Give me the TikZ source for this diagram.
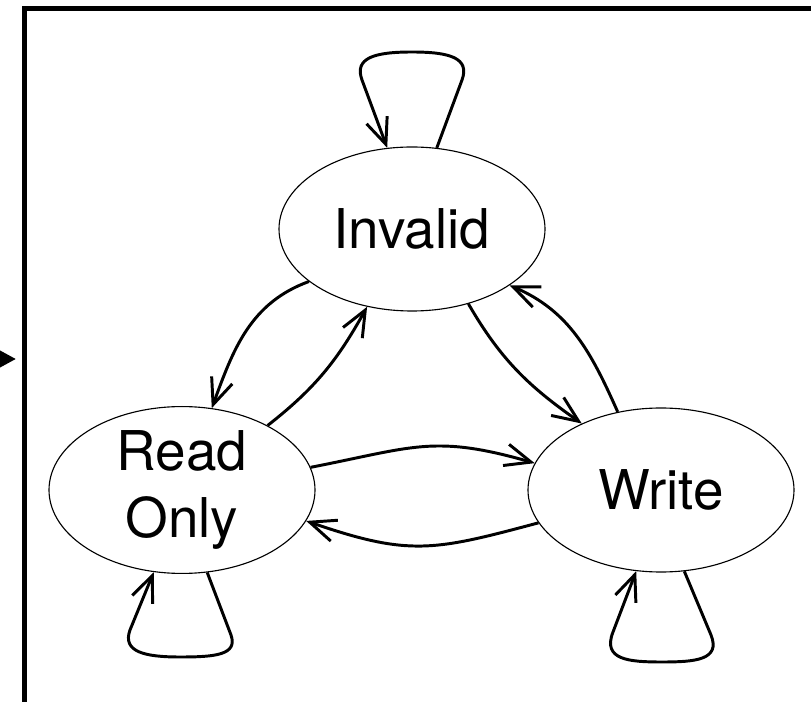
\documentclass[tikz,border=0pt]{standalone}
\usepackage{fontspec}
\setmainfont{TeX Gyre Heros}
\usetikzlibrary{arrows.meta,shapes.geometric}

\begin{document}
\begin{tikzpicture}[
	state/.style={ellipse, draw, line width=0.8pt, minimum width=6.65cm, minimum height=4.1cm, inner sep=0pt, align=center, font=\fontsize{39}{47}\selectfont},
	trans/.style={line width=2.1pt, -{Straight Barb[length=0.65cm, width=0.55cm]}},
]
	\clip (0, 0) rectangle (20.275, 17.525);

	\draw[line width=3.5pt] (0.6125, -1) |- (21, 17.3125);
	\coordinate (entry) at (-1, 8.55);
	\coordinate (port) at (0.4, 8.55);
	\draw[line width=3pt, -{Triangle[length=0.45cm, width=0.45cm]}] (entry) -- (port);

	\node[state] (inv) at (10.3, 11.8) {Invalid};
	\node[state] (ro) at (4.55, 5.275) {Read\\Only};
	\node[state] (wr) at (16.525, 5.275) {Write};

	\draw[trans] (inv.207) to[out=200, in=70] (ro.70);
	\draw[trans] (ro.37) to[out=38, in=241] (inv.240);
	\draw[trans] (inv.307) to[out=300, in=145] (wr.140);
	\draw[trans] (wr.119) to[out=114, in=337] (inv.330);
	\draw[trans] (ro.10) to[out=11, in=164, looseness=1.2] (wr.168);
	\draw[trans] (wr.195) to[out=195, in=341, looseness=1.2] (ro.346);

	\draw[trans] (inv.73) -- (11.55, 15.525) .. controls (11.75, 16.075) and (11.25, 16.225) .. (10.3, 16.225) .. controls (9.35, 16.225) and (8.85, 16.075) .. (9.05, 15.525) -- (inv.107);
	\draw[trans] (ro.287) -- (5.775, 1.65) .. controls (5.95, 1.15) and (5.375, 1.1) .. (4.5, 1.1) .. controls (3.625, 1.1) and (3.05, 1.225) .. (3.25, 1.775) -- (ro.251);
	\draw[trans] (wr.286) -- (17.775, 1.65) .. controls (18.025, 1.025) and (17.375, 0.975) .. (16.55, 0.975) .. controls (15.725, 0.975) and (15.05, 1.025) .. (15.325, 1.725) -- (wr.253);

\end{tikzpicture}
\end{document}
